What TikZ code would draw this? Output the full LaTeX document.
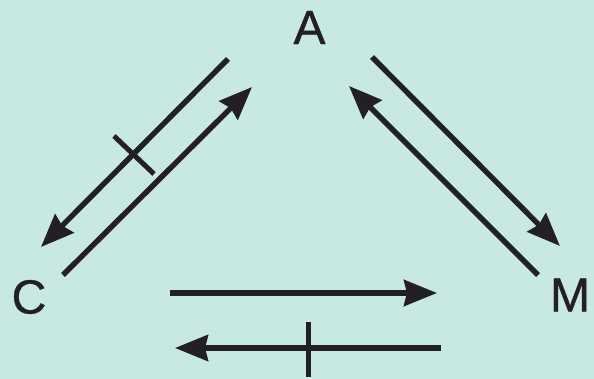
\documentclass[tikz,border=0pt]{standalone}
\usepackage{fontspec}
\setmainfont{Liberation Sans}
\newfontfamily\lblfont[FakeBold=0.8]{Liberation Sans}
\usetikzlibrary{arrows.meta}
\definecolor{bgmint}{RGB}{199,233,226}
\definecolor{ink}{RGB}{34,32,36}
\begin{document}
\begin{tikzpicture}[x=1pt,y=-1pt,
  lbl/.style={inner sep=0pt,font=\lblfont\fontsize{48}{48}\selectfont,text=ink},
  conn/.style={draw=ink,line width=5.4pt,-{Stealth[length=33pt,width=26pt,inset=3pt]}},
  barmark/.style={draw=ink,line width=5pt}]
\fill[bgmint] (0,0) rectangle (594,379);
\useasboundingbox (0,0) rectangle (594,379);
\node[lbl] (A) at (309.5,27.5) {A};
\node[lbl] (C) at (29,297) {C};
\node[lbl] (M) at (570,295) {M};
% endpoints
\coordinate (ca1) at (228,59);  \coordinate (ca2) at (41,247);
\coordinate (ac1) at (63,275);  \coordinate (ac2) at (252,87);
\coordinate (am1) at (372,57);  \coordinate (am2) at (560,246);
\coordinate (ma1) at (538,275); \coordinate (ma2) at (349,86);
\coordinate (cm1) at (170,293); \coordinate (cm2) at (437,293);
\coordinate (mc1) at (441,348); \coordinate (mc2) at (175,348);
\coordinate (b1a) at (114,136); \coordinate (b1b) at (154,174);
\coordinate (b2a) at (308,322); \coordinate (b2b) at (308,377);
\draw[conn] (ca1) -- (ca2);
\draw[conn] (ac1) -- (ac2);
\draw[conn] (am1) -- (am2);
\draw[conn] (ma1) -- (ma2);
\draw[conn] (cm1) -- (cm2);
\draw[conn] (mc1) -- (mc2);
\draw[barmark] (b1a) -- (b1b);
\draw[barmark] (b2a) -- (b2b);
\end{tikzpicture}
\end{document}
